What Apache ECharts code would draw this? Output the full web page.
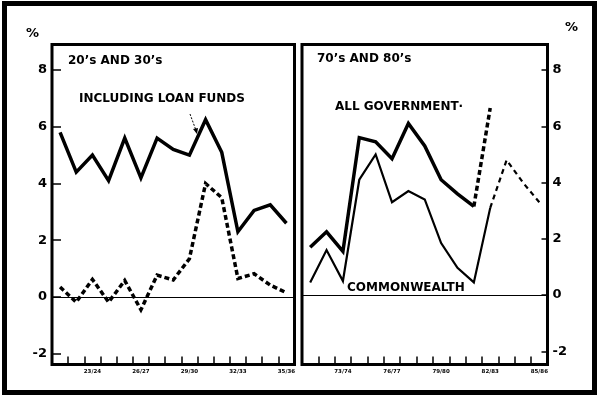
<!DOCTYPE html>
<html>
<head>
<meta charset="utf-8">
<script src="https://cdn.jsdelivr.net/npm/echarts@6/dist/echarts.min.js"></script>
<style>
  html, body { margin: 0; padding: 0; background: #fff; }
  #main { width: 600px; height: 398px; }
</style>
</head>
<body>
<div id="main"></div>
<script>
// 20's and 30's
const yearsEarly = ['21/22', '22/23', '23/24', '24/25', '25/26', '26/27', '27/28', '28/29', '29/30', '30/31', '31/32', '32/33', '33/34', '34/35', '35/36']
const inclLoanFunds = [5.8, 4.4, 5.0, 4.1, 5.6, 4.2, 5.6, 5.2, 5.0, 6.25, 5.1, 2.3, 3.05, 3.25, 2.6]
const exclLoanFunds = [0.35, -0.18, 0.62, -0.18, 0.58, -0.45, 0.77, 0.6, 1.35, 4.0, 3.5, 0.65, 0.82, 0.42, 0.15]

// 70's and 80's
const yearsLate = ['71/72', '72/73', '73/74', '74/75', '75/76', '76/77', '77/78', '78/79', '79/80', '80/81', '81/82', '82/83', '83/84', '84/85', '85/86']
const allGovernment = [1.7, 2.25, 1.55, 5.6, 5.45, 4.85, 6.1, 5.3, 4.1, 3.6, 3.15, null, null, null, null]
const allGovernmentEst = [null, null, null, null, null, null, null, null, null, null, 3.15, 6.65, null, null, null]
const commonwealth = [0.45, 1.6, 0.5, 4.1, 5.0, 3.3, 3.7, 3.4, 1.85, 0.97, 0.45, 3.1, null, null, null]
const commonwealthEst = [null, null, null, null, null, null, null, null, null, null, null, 3.1, 4.8, 4.0, 3.3]

const yTicks = [-2, 0, 2, 4, 6, 8]

const FONT = 'DejaVu Sans'
const chart = echarts.init(document.getElementById('main'))

function xAxisFor(gridIndex, data) {
  return {
    type: 'category',
    gridIndex: gridIndex,
    boundaryGap: true,
    data: data,
    axisLine: { show: false, onZero: false },
    axisTick: {
      show: true,
      inside: true,
      length: 8,
      interval: 0,
      lineStyle: { color: '#000', width: 1.5 }
    },
    axisLabel: {
      interval: (idx) => idx % 3 === 2,
      fontFamily: FONT,
      fontWeight: 'bold',
      fontSize: 5.5,
      color: '#000',
      margin: 4
    },
    splitLine: { show: false }
  }
}

function yAxisFor(gridIndex, pos, min, max, tickLen, margin) {
  return {
    type: 'value',
    gridIndex: gridIndex,
    position: pos,
    min: min,
    max: max,
    axisLine: { show: false },
    axisTick: {
      show: true,
      inside: true,
      length: tickLen,
      customValues: yTicks,
      lineStyle: { color: '#000', width: 1.5 }
    },
    axisLabel: {
      customValues: yTicks,
      fontFamily: FONT,
      fontWeight: 'bold',
      fontSize: 13,
      color: '#000',
      margin: margin
    },
    splitLine: { show: false }
  }
}

const zeroLine = {
  silent: true,
  symbol: 'none',
  label: { show: false },
  lineStyle: { color: '#000', width: 1, type: 'solid' },
  data: [{ yAxis: 0 }]
}

function lineSeries(axisIdx, data, width, dash, extra) {
  return Object.assign({
    type: 'line',
    xAxisIndex: axisIdx,
    yAxisIndex: axisIdx,
    data: data,
    symbol: 'none',
    showSymbol: false,
    lineStyle: { color: '#000', width: width, type: dash || 'solid', cap: 'butt', join: 'miter' }
  }, extra || {})
}

const textStyle = (t, x, y, size) => ({
  type: 'text',
  left: x,
  top: y,
  style: {
    text: t,
    fill: '#000',
    font: 'bold ' + (size || 12) + 'px "' + FONT + '"'
  }
})

const option = {
  animation: false,
  backgroundColor: '#fff',
  grid: [
    { left: 52, right: 305.5, top: 44.5, bottom: 33.5, show: true, borderColor: '#000', borderWidth: 3, backgroundColor: 'transparent' },
    { left: 302, right: 52.5, top: 44.5, bottom: 33.5, show: true, borderColor: '#000', borderWidth: 3, backgroundColor: 'transparent' }
  ],
  xAxis: [xAxisFor(0, yearsEarly), xAxisFor(1, yearsLate)],
  yAxis: [
    yAxisFor(0, 'left', -2.38, 8.9, 9, 5),
    yAxisFor(1, 'right', -2.47, 8.91, 6, 5)
  ],
  series: [
    lineSeries(0, inclLoanFunds, 3.5, 'solid', { markLine: zeroLine }),
    lineSeries(0, exclLoanFunds, 3.5, [5, 3]),
    lineSeries(1, allGovernment, 3.5, 'solid', { markLine: zeroLine }),
    lineSeries(1, allGovernmentEst, 3.5, [5, 3]),
    lineSeries(1, commonwealth, 2.2, 'solid'),
    lineSeries(1, commonwealthEst, 2.2, [5, 4])
  ],
  graphic: [
    {
      type: 'rect',
      shape: { x: 4.5, y: 3.5, width: 590, height: 389 },
      style: { fill: 'none', stroke: '#000', lineWidth: 5 },
      z: 100
    },
    textStyle('%', 26, 27, 13),
    textStyle('%', 565, 21, 13),
    textStyle('20\u2019s AND 30\u2019s', 68, 55, 12),
    textStyle('70\u2019s AND 80\u2019s', 317, 53, 12),
    textStyle('INCLUDING LOAN FUNDS', 79, 93, 12),
    textStyle('ALL GOVERNMENT\u00b7', 335, 101, 12),
    textStyle('COMMONWEALTH', 347, 282, 12),
    {
      type: 'line',
      shape: { x1: 190, y1: 114, x2: 195.5, y2: 129 },
      style: { stroke: '#000', lineWidth: 1, lineDash: [2, 1.5] }
    },
    {
      type: 'polygon',
      shape: { points: [[193, 129], [198, 128], [197, 134]] },
      style: { fill: '#000' }
    }
  ]
}

chart.setOption(option, true)
</script>
</body>
</html>
